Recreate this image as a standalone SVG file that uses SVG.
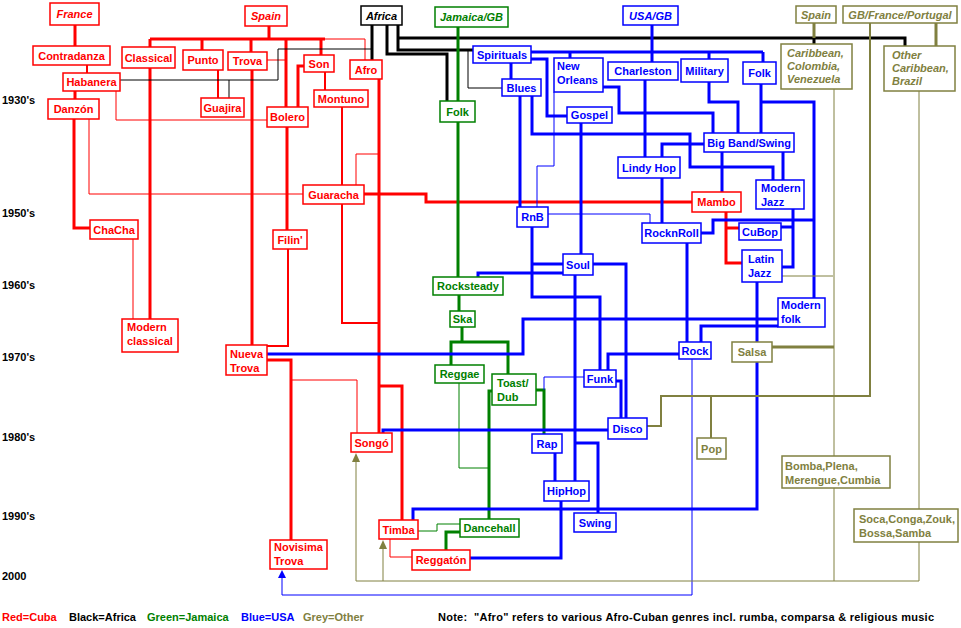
<svg xmlns="http://www.w3.org/2000/svg" width="961" height="628" viewBox="0 0 961 628">
<style>
text{font-family:"Liberation Sans",Arial,sans-serif;font-weight:bold;font-size:11px}
.c{text-anchor:middle}
.i{font-style:italic}
path{fill:none}
.r{stroke:#f00}.k{stroke:#000}.g{stroke:#008000}.b{stroke:#00f}.o{stroke:#808040}
.w1{stroke-width:1}.w2{stroke-width:2}.w3{stroke-width:3}
rect{fill:#fff;stroke-width:1.5}
.nr rect{stroke:#f00}.nr text{fill:#f00}
.nk rect{stroke:#000}.nk text{fill:#000}
.ng rect{stroke:#008000}.ng text{fill:#008000}
.nb rect{stroke:#00f}.nb text{fill:#00f}
.no rect{stroke:#808040}.no text{fill:#808040}
.ao{fill:#808040}.ab{fill:#00f}
</style>
<rect x="0" y="0" width="961" height="628" style="fill:#fff;stroke:none"/>
<g id="connectors">
<path class="r w3" d="M75,25V46M75,91V99M74,119V228H90M269,26V39M150,39H325M150,39V47M202,39V50M251,39V52M286,39V107M321,39V55M304,66H298V107M150,68V319M252,70V345M287,127V230M364,194H426V202H692M379,79V433M379,386H402V520M726,212V263H742M726,228H739M267,360H291V540"/>
<path class="r w2" d="M87,65V73M218,70V98M288,249V346H267M325,72V90M342,107V185M342,204V323H379"/>
<path class="r w1" d="M325,39H365V60M267,60H286M89,119V194H303M116,91V120H267M379,154H356V194M133,239V319M291,380H357V433M390,539V557H412"/>
<path class="k w3" d="M372,25V60M387,25V54H447V101M398,25V50H473M398,38H905V46M814,38V44"/>
<path class="k w1" d="M372,49H278V80H120M229,80V98M468,50V88H502"/>
<path class="g w3" d="M458,27V101M458,122V277M459,295V311M462,327V342M451,365V342H508V374M492,391H489V519M536,390H544V434M460,532H446V550"/>
<path class="g w1" d="M459,383V468H489M460,524H437V531H418"/>
<path class="b w3" d="M652,25V62M531,52H763M570,52V58M709,52V59M763,52V62M511,63V79M531,59H547V116H567M603,87H619V113H713V133M520,96V207M532,96V134H690V167H773V180M709,82V102H738V133M761,84V133M761,102H814V298M704,144H662V157M645,79V157M722,152V192M783,152V180M662,178V223M793,209V267H782M793,227H781M701,233H713V220H814M581,122V254M532,227V297H600V370M532,264H563M563,273H478V277M593,264H626V418M575,275V481M575,443H598V513M778,319H523V354H267M778,326H701V342M687,243V342M679,354H608V370M616,381H621V418M608,430H383V433M555,453V481M561,500V558H470M757,282V342M757,362V509H413V520"/>
<path class="b w1" d="M554,92V166H537V207M548,214H650V223M584,377H544V390M692,359V595H282V576"/>
<path class="o w3" d="M814,23V38M936,23V46M834,347H772"/>
<path class="o w2" d="M870,23V396H661V426H647M711,396V438"/>
<path class="o w1" d="M834,89V456M834,488V581M833,276H782M919,91V509M919,542V581M919,581H356V460M383,581V547"/>
<polygon class="ao" points="356,453 352,462 360,462"/>
<polygon class="ao" points="383,540 379,549 387,549"/>
<polygon class="ab" points="282,570 278,578 286,578"/>
</g>
<g id="n-france" class="nr"><rect x="50" y="3" width="49" height="22"/><text class="c i" x="74.5" y="18">France</text></g>
<g id="n-spain" class="nr"><rect x="245" y="6" width="42" height="20"/><text class="c i" x="266" y="20">Spain</text></g>
<g id="n-contradanza" class="nr"><rect x="33" y="46" width="77" height="19"/><text class="c" x="71.5" y="59.5">Contradanza</text></g>
<g id="n-classical" class="nr"><rect x="122" y="47" width="53" height="21"/><text class="c" x="148.5" y="61.5">Classical</text></g>
<g id="n-punto" class="nr"><rect x="183" y="50" width="40" height="20"/><text class="c" x="203" y="64">Punto</text></g>
<g id="n-trova" class="nr"><rect x="228" y="52" width="39" height="18"/><text class="c" x="247.5" y="65">Trova</text></g>
<g id="n-son" class="nr"><rect x="304" y="55" width="30" height="17"/><text class="c" x="319" y="67.5">Son</text></g>
<g id="n-habanera" class="nr"><rect x="63" y="73" width="57" height="18"/><text class="c" x="91.5" y="86">Habanera</text></g>
<g id="n-afro" class="nr"><rect x="350" y="60" width="32" height="19"/><text class="c" x="366" y="73.5">Afro</text></g>
<g id="n-montuno" class="nr"><rect x="314" y="90" width="54" height="17"/><text class="c" x="341" y="102.5">Montuno</text></g>
<g id="n-guajira" class="nr"><rect x="201" y="98" width="43" height="19"/><text class="c" x="222.5" y="111.5">Guajira</text></g>
<g id="n-danzon" class="nr"><rect x="48" y="99" width="51" height="20"/><text class="c" x="73.5" y="113">Danzón</text></g>
<g id="n-bolero" class="nr"><rect x="267" y="107" width="41" height="20"/><text class="c" x="287.5" y="121">Bolero</text></g>
<g id="n-guaracha" class="nr"><rect x="303" y="185" width="61" height="19"/><text class="c" x="333.5" y="198.5">Guaracha</text></g>
<g id="n-chacha" class="nr"><rect x="90" y="220" width="48" height="19"/><text class="c" x="114" y="233.5">ChaCha</text></g>
<g id="n-filin" class="nr"><rect x="273" y="230" width="34" height="19"/><text class="c" x="290" y="243.5">Filin'</text></g>
<g id="n-mambo" class="nr"><rect x="692" y="192" width="49" height="20"/><text class="c" x="716.5" y="206">Mambo</text></g>
<g id="n-modernclassical" class="nr"><rect x="122" y="319" width="56" height="33"/><text x="127" y="331">Modern</text><text x="127" y="345">classical</text></g>
<g id="n-nuevatrova" class="nr"><rect x="226" y="345" width="41" height="30"/><text x="230" y="358">Nueva</text><text x="230" y="372">Trova</text></g>
<g id="n-songo" class="nr"><rect x="351" y="433" width="41" height="19"/><text class="c" x="371.5" y="446.5">Songó</text></g>
<g id="n-timba" class="nr"><rect x="379" y="520" width="39" height="19"/><text class="c" x="398.5" y="533.5">Timba</text></g>
<g id="n-reggaton" class="nr"><rect x="412" y="550" width="58" height="20"/><text class="c" x="441" y="564">Reggatón</text></g>
<g id="n-novisima" class="nr"><rect x="270" y="540" width="57" height="29"/><text x="274" y="551">Novisima</text><text x="274" y="565">Trova</text></g>
<g id="n-africa" class="nk"><rect x="361" y="6" width="41" height="19"/><text class="c i" x="381.5" y="19.5">Africa</text></g>
<g id="n-jamaica" class="ng"><rect x="435" y="7" width="73" height="20"/><text class="c i" x="471.5" y="21">Jamaica/GB</text></g>
<g id="n-folkj" class="ng"><rect x="440" y="101" width="35" height="21"/><text class="c" x="457.5" y="115.5">Folk</text></g>
<g id="n-rocksteady" class="ng"><rect x="433" y="277" width="70" height="18"/><text class="c" x="468" y="290">Rocksteady</text></g>
<g id="n-ska" class="ng"><rect x="450" y="311" width="25" height="16"/><text class="c" x="462.5" y="323">Ska</text></g>
<g id="n-reggae" class="ng"><rect x="435" y="365" width="49" height="18"/><text class="c" x="459.5" y="378">Reggae</text></g>
<g id="n-toast" class="ng"><rect x="492" y="374" width="44" height="31"/><text x="497" y="387">Toast/</text><text x="497" y="401">Dub</text></g>
<g id="n-dancehall" class="ng"><rect x="460" y="519" width="59" height="18"/><text class="c" x="489.5" y="532">Dancehall</text></g>
<g id="n-usa" class="nb"><rect x="623" y="6" width="55" height="19"/><text class="c i" x="650.5" y="19.5">USA/GB</text></g>
<g id="n-spirituals" class="nb"><rect x="473" y="46" width="58" height="17"/><text class="c" x="502" y="58.5">Spirituals</text></g>
<g id="n-neworleans" class="nb"><rect x="554" y="58" width="49" height="34"/><text x="557" y="70">New</text><text x="557" y="84">Orleans</text></g>
<g id="n-charleston" class="nb"><rect x="608" y="62" width="70" height="18"/><text class="c" x="643" y="75">Charleston</text></g>
<g id="n-military" class="nb"><rect x="681" y="59" width="47" height="23"/><text class="c" x="704.5" y="74.5">Military</text></g>
<g id="n-folku" class="nb"><rect x="743" y="62" width="33" height="22"/><text class="c" x="759.5" y="77">Folk</text></g>
<g id="n-blues" class="nb"><rect x="502" y="79" width="39" height="17"/><text class="c" x="521.5" y="91.5">Blues</text></g>
<g id="n-gospel" class="nb"><rect x="567" y="107" width="45" height="16"/><text class="c" x="589.5" y="119">Gospel</text></g>
<g id="n-bigband" class="nb"><rect x="704" y="133" width="90" height="19"/><text class="c" x="749" y="146.5">Big Band/Swing</text></g>
<g id="n-lindyhop" class="nb"><rect x="618" y="157" width="62" height="21"/><text class="c" x="649" y="171.5">Lindy Hop</text></g>
<g id="n-modernjazz" class="nb"><rect x="756" y="180" width="48" height="29"/><text x="761" y="192">Modern</text><text x="761" y="206">Jazz</text></g>
<g id="n-rnb" class="nb"><rect x="517" y="207" width="31" height="20"/><text class="c" x="532.5" y="221">RnB</text></g>
<g id="n-rocknroll" class="nb"><rect x="642" y="223" width="59" height="20"/><text class="c" x="671.5" y="237">RocknRoll</text></g>
<g id="n-cubop" class="nb"><rect x="739" y="223" width="42" height="17"/><text class="c" x="760" y="235.5">CuBop</text></g>
<g id="n-latinjazz" class="nb"><rect x="742" y="250" width="40" height="32"/><text x="748" y="263">Latin</text><text x="748" y="277">Jazz</text></g>
<g id="n-soul" class="nb"><rect x="563" y="254" width="30" height="21"/><text class="c" x="578" y="268.5">Soul</text></g>
<g id="n-modernfolk" class="nb"><rect x="778" y="298" width="47" height="29"/><text x="781" y="309">Modern</text><text x="781" y="323">folk</text></g>
<g id="n-rock" class="nb"><rect x="679" y="342" width="32" height="17"/><text class="c" x="695" y="354.5">Rock</text></g>
<g id="n-funk" class="nb"><rect x="584" y="370" width="32" height="17"/><text class="c" x="600" y="382.5">Funk</text></g>
<g id="n-disco" class="nb"><rect x="608" y="418" width="39" height="21"/><text class="c" x="627.5" y="432.5">Disco</text></g>
<g id="n-rap" class="nb"><rect x="532" y="434" width="30" height="19"/><text class="c" x="547" y="447.5">Rap</text></g>
<g id="n-hiphop" class="nb"><rect x="544" y="481" width="45" height="20"/><text class="c" x="566.5" y="495">HipHop</text></g>
<g id="n-swing" class="nb"><rect x="574" y="513" width="42" height="19"/><text class="c" x="595" y="526.5">Swing</text></g>
<g id="n-spain2" class="no"><rect x="796" y="6" width="40" height="17"/><text class="c i" x="816" y="18.5">Spain</text></g>
<g id="n-gbfp" class="no"><rect x="843" y="6" width="114" height="17"/><text class="c i" x="900" y="18.5">GB/France/Portugal</text></g>
<g id="n-caribbean" class="no"><rect x="781" y="44" width="71" height="45"/><text class="i" x="787" y="57">Caribbean,</text><text class="i" x="787" y="70">Colombia,</text><text class="i" x="787" y="83">Venezuela</text></g>
<g id="n-othercarib" class="no"><rect x="884" y="46" width="71" height="45"/><text class="i" x="892" y="59">Other</text><text class="i" x="892" y="72">Caribbean,</text><text class="i" x="892" y="85">Brazil</text></g>
<g id="n-salsa" class="no"><rect x="732" y="342" width="40" height="20"/><text class="c" x="752" y="356">Salsa</text></g>
<g id="n-pop" class="no"><rect x="697" y="438" width="29" height="21"/><text class="c" x="711.5" y="452.5">Pop</text></g>
<g id="n-bomba" class="no"><rect x="782" y="456" width="108" height="32"/><text x="785" y="470">Bomba,Plena,</text><text x="785" y="484">Merengue,Cumbia</text></g>
<g id="n-soca" class="no"><rect x="854" y="509" width="104" height="33"/><text x="859" y="523">Soca,Conga,Zouk,</text><text x="859" y="537">Bossa,Samba</text></g>
<g id="decades">
<text x="2" y="104">1930's</text>
<text x="2" y="217">1950's</text>
<text x="2" y="289">1960's</text>
<text x="2" y="361">1970's</text>
<text x="2" y="441">1980's</text>
<text x="2" y="520">1990's</text>
<text x="2" y="580">2000</text>
</g>
<g id="legend">
<text x="2" y="621" fill="#f00">Red=Cuba</text>
<text x="69" y="621">Black=Africa</text>
<text x="147" y="621" fill="#008000">Green=Jamaica</text>
<text x="241" y="621" fill="#00f">Blue=USA</text>
<text x="303" y="621" fill="#808040">Grey=Other</text>
<text x="438" y="621" xml:space="preserve" textLength="496" lengthAdjust="spacing">Note:  "Afro" refers to various Afro-Cuban genres incl. rumba, comparsa &amp; religious music</text>
</g>
</svg>
